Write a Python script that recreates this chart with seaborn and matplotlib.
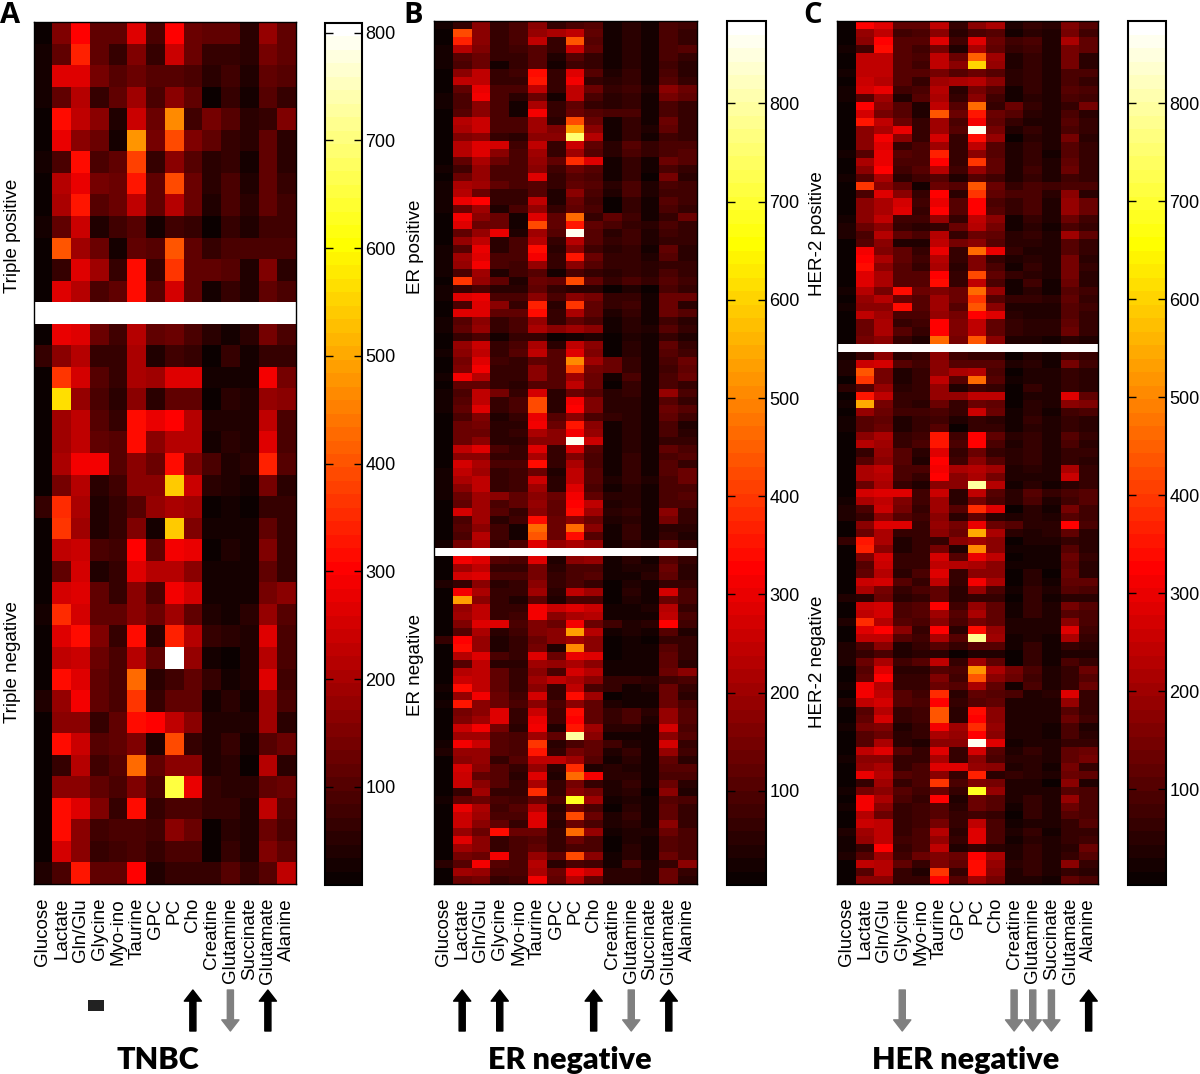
import numpy as np
import pandas as pd
import matplotlib
matplotlib.use("Agg")
import matplotlib.pyplot as plt
import matplotlib.transforms as mtrans
from matplotlib.patches import Rectangle
import seaborn as sns

metabolites = ["Glucose", "Lactate", "Gln/Glu", "Glycine", "Myo-ino", "Taurine", "GPC", "PC", "Cho",
               "Creatine", "Glutamine", "Succinate", "Glutamate", "Alanine"]

triple_positive = [
[10,150,300,120,120,270,90,300,130,110,110,50,180,120],
[25,110,340,120,70,150,60,240,130,70,70,50,140,110],
[25,260,260,140,100,130,100,100,90,50,80,45,110,100],
[25,110,210,70,110,190,90,170,110,20,60,30,100,60],
[10,320,230,170,40,240,130,470,80,140,100,50,70,150],
[10,280,170,130,30,480,140,390,150,110,60,50,120,50],
[30,90,310,90,120,380,70,160,100,50,60,30,110,55],
[15,220,280,140,130,330,110,390,130,50,90,40,110,60],
[20,200,330,100,130,230,110,220,130,40,90,50,120,80],
[30,120,240,40,80,100,30,80,70,10,70,40,80,80],
[15,400,190,130,30,110,100,400,110,70,90,90,90,90],
[10,70,270,190,70,320,60,370,110,110,100,45,150,50],
[10,260,210,90,110,320,100,250,120,30,70,40,120,90],
]
triple_negative = [
[20,280,270,130,80,210,110,130,90,50,30,50,140,90],
[60,160,210,60,70,200,40,80,70,10,60,25,60,60],
[10,360,250,100,70,200,190,260,260,30,30,30,290,140],
[15,560,180,90,50,160,50,120,120,15,50,40,180,160],
[10,190,230,100,70,310,280,300,220,40,40,40,230,90],
[10,190,230,110,100,320,170,220,210,30,50,40,270,90],
[10,200,290,290,100,170,130,310,150,90,40,50,340,100],
[15,140,220,50,80,170,170,540,240,50,40,25,140,50],
[60,350,200,40,70,100,180,200,190,10,30,10,70,60],
[10,360,190,40,70,150,25,540,150,25,25,30,120,70],
[10,230,240,90,80,300,120,290,280,15,40,30,150,70],
[15,120,250,40,60,270,220,210,170,25,30,30,120,60],
[10,250,260,120,60,170,90,290,250,25,25,25,140,170],
[30,350,250,120,120,170,130,190,120,45,25,50,180,100],
[10,260,320,150,70,310,50,340,220,60,50,40,270,90],
[10,230,240,130,90,220,120,810,180,30,20,40,220,90],
[10,310,270,110,90,430,50,80,110,70,30,40,270,80],
[40,180,290,110,90,360,70,120,120,30,50,25,190,90],
[10,170,170,70,110,320,300,230,170,40,40,40,190,50],
[10,320,240,100,110,150,40,390,60,40,60,30,100,130],
[10,70,210,80,100,430,120,170,170,40,50,15,220,50],
[10,170,170,120,90,150,90,650,280,60,50,50,120,130],
[10,310,260,150,70,310,60,90,90,70,60,40,230,100],
[10,310,170,80,90,90,80,170,130,15,50,40,130,90],
[10,250,170,70,80,90,70,90,90,15,60,40,150,110],
[40,90,330,120,110,300,45,70,70,60,100,60,100,230],
]

er_positive = [
[20,60,180,70,90,180,60,100,110,20,50,30,90,80],
[15,420,180,70,90,190,220,250,120,20,50,30,90,70],
[10,370,170,60,90,240,70,440,110,20,50,30,90,70],
[25,230,160,60,80,110,60,260,120,20,50,30,90,110],
[25,110,140,60,70,110,40,110,70,25,50,25,100,60],
[30,100,140,25,70,110,20,80,70,25,50,25,80,50],
[10,180,240,70,80,340,70,290,110,40,60,30,100,50],
[10,250,240,70,70,350,70,310,70,50,60,30,110,70],
[10,120,300,100,90,240,70,240,130,70,80,40,170,130],
[25,90,320,100,50,140,30,240,100,50,70,30,150,120],
[20,90,180,100,30,220,70,120,60,50,70,30,90,70],
[15,110,170,100,30,320,70,130,110,90,90,30,90,70],
[10,230,260,100,90,210,50,420,130,25,70,30,130,60],
[10,220,260,90,90,210,160,540,170,25,70,40,120,60],
[10,160,180,60,50,170,170,760,230,30,60,25,80,70],
[10,230,290,270,80,240,60,260,120,50,110,60,90,100],
[10,230,280,180,90,200,60,200,110,50,90,60,90,110],
[10,120,220,130,90,190,120,380,280,20,70,30,130,110],
[25,80,190,90,90,170,80,140,110,20,60,25,100,70],
[15,140,190,90,90,280,70,110,100,30,60,15,150,50],
[20,220,210,120,100,110,70,120,110,50,90,40,90,80],
[20,230,130,70,70,110,40,180,90,40,90,40,80,80],
[25,300,330,70,70,240,40,130,80,15,70,25,110,80],
[25,130,200,40,90,190,60,120,90,15,70,30,100,70],
[10,320,170,140,30,280,120,460,60,120,80,30,70,130],
[10,280,130,130,30,430,120,350,120,90,60,50,90,60],
[10,120,190,300,40,210,110,860,110,50,80,40,80,60],
[10,190,250,50,90,230,60,230,110,60,80,40,70,70],
[25,110,300,50,90,340,50,170,80,50,60,25,120,50],
[20,210,280,100,90,320,60,350,130,60,60,40,110,50],
[20,190,320,90,80,190,70,180,110,60,70,50,70,60],
[20,100,200,40,80,110,30,100,70,50,60,50,90,70],
[10,400,190,120,40,130,120,430,120,70,90,70,110,80],
[30,60,100,50,50,120,60,50,50,15,40,10,100,70],
[20,280,300,90,100,180,100,170,150,60,60,20,140,130],
[10,100,290,170,70,370,50,400,120,60,80,30,140,50],
[10,280,280,120,120,340,70,220,120,40,70,30,130,110],
[30,110,170,60,100,190,70,120,100,30,50,30,80,50],
[25,120,190,70,90,220,170,200,170,30,50,40,110,60],
[15,60,90,30,60,70,15,30,40,15,40,25,60,40],
[10,190,260,70,90,220,50,250,170,15,50,30,120,70],
[30,170,240,70,110,240,110,280,160,15,50,30,110,80],
[10,150,290,80,70,120,110,500,200,130,60,30,90,140],
[10,160,320,70,70,170,110,430,150,130,60,30,80,120],
[25,320,230,70,70,170,110,210,130,30,90,30,90,130],
[15,120,120,70,50,110,110,240,130,15,70,30,90,70],
[20,100,250,150,70,270,50,130,110,50,70,25,190,100],
[20,110,250,70,90,430,50,320,160,50,50,30,110,70],
[30,120,280,70,90,420,50,330,160,50,50,25,130,110],
[10,90,160,35,70,300,110,170,100,70,50,25,120,80],
[10,130,150,50,50,310,130,350,180,30,50,30,100,40],
[15,130,130,50,60,220,170,320,190,30,50,30,100,50],
[10,130,170,50,50,180,170,860,260,30,50,30,70,70],
[15,240,290,100,70,280,60,270,110,30,50,25,120,90],
[15,180,180,70,70,220,70,160,90,30,60,25,90,110],
[10,270,220,90,90,340,70,220,100,30,60,30,110,70],
[20,250,210,70,80,140,40,240,110,30,70,30,110,130],
[25,220,240,70,80,260,50,250,110,40,70,35,90,140],
[20,170,240,60,80,200,50,280,90,20,50,25,100,90],
[20,130,210,170,120,180,140,310,120,50,50,30,100,110],
[15,120,200,100,120,190,120,330,250,40,50,30,90,90],
[10,270,200,110,70,180,120,340,200,50,60,30,180,70],
[10,100,200,50,80,340,130,170,130,40,50,30,150,60],
[10,110,170,80,30,470,130,470,170,30,60,30,50,50],
[10,100,230,80,25,440,130,340,110,30,60,30,60,40],
[30,150,220,70,90,290,190,220,190,30,50,40,120,60],
]
er_negative = [
[10,320,280,110,100,280,40,170,190,30,50,30,110,60],
[15,200,240,70,60,150,50,100,100,25,40,35,130,50],
[15,270,280,90,90,150,60,100,110,30,25,50,120,50],
[40,70,170,50,70,170,60,90,70,10,40,25,60,60],
[10,320,220,70,70,200,50,240,210,15,50,30,270,100],
[15,540,180,60,40,120,40,100,90,10,40,25,130,100],
[10,190,240,70,70,310,260,290,260,30,30,35,230,60],
[10,200,240,70,80,320,180,220,230,30,30,30,250,90],
[10,160,290,290,100,160,130,320,130,80,40,50,330,80],
[15,110,220,50,80,160,170,530,230,30,40,25,110,45],
[60,330,190,40,70,130,180,200,170,10,30,15,70,60],
[10,340,190,40,60,150,40,510,170,15,25,20,110,60],
[10,230,280,100,60,280,130,300,280,15,30,25,120,70],
[15,110,250,50,50,210,190,220,170,25,30,25,120,50],
[10,230,250,120,60,170,90,270,230,25,25,25,130,170],
[15,260,250,120,70,200,250,220,170,70,70,50,80,90],
[20,340,240,120,60,170,60,240,100,70,30,40,130,70],
[15,190,320,140,80,270,60,340,210,10,30,20,130,50],
[30,360,170,130,90,180,90,170,120,40,30,30,130,100],
[10,150,180,280,60,260,80,340,120,60,90,50,190,110],
[10,160,210,290,70,300,80,330,120,60,90,40,190,110],
[10,260,320,150,50,310,40,350,200,50,50,30,270,90],
[15,200,200,110,90,200,120,790,170,25,30,25,180,110],
[25,310,260,110,100,400,50,100,120,80,40,30,270,60],
[40,190,190,110,90,350,70,150,120,40,60,25,190,80],
[15,180,190,70,110,240,240,210,110,30,50,25,120,50],
[10,270,170,110,70,190,50,380,40,50,40,20,110,110],
[15,260,120,110,50,290,40,470,310,50,50,25,90,90],
[10,260,170,110,70,220,60,150,70,40,60,20,140,50],
[15,60,200,70,70,380,70,170,150,40,50,10,180,40],
[20,120,140,90,80,130,100,690,200,30,45,30,110,90],
[10,300,220,80,110,230,50,130,100,15,50,30,120,60],
[10,260,200,90,90,290,70,420,130,40,60,30,120,60],
[10,260,170,120,60,290,50,130,90,40,50,30,170,70],
[15,190,130,340,130,130,70,460,190,20,40,40,130,90],
[15,290,170,60,100,110,60,130,100,10,40,30,110,90],
[15,200,170,60,100,120,70,100,100,10,50,30,110,90],
[15,150,130,310,100,190,120,420,170,20,50,30,130,90],
[50,110,320,110,90,230,50,100,80,30,90,40,70,170],
[15,210,190,100,90,220,130,300,260,50,50,40,130,70],
[15,130,150,60,80,320,120,230,120,50,50,40,130,50],
]

her_positive = [
[10,320,290,120,120,240,60,180,210,40,60,50,160,110],
[10,190,240,80,90,170,50,90,100,25,50,40,150,80],
[10,170,320,110,100,280,80,280,130,80,90,40,210,120],
[25,80,340,110,80,150,40,220,120,70,80,35,150,120],
[10,240,240,110,90,240,130,450,200,40,70,30,150,50],
[10,240,240,110,80,240,170,600,190,40,70,30,150,50],
[20,250,240,110,110,150,110,130,110,50,70,35,90,90],
[10,260,230,110,70,200,220,230,170,50,70,35,90,70],
[25,270,300,80,90,230,50,150,110,25,60,30,100,90],
[20,110,200,40,100,210,70,170,80,20,50,30,90,80],
[10,320,170,110,30,240,110,470,70,130,60,40,60,140],
[10,270,140,110,30,440,130,360,130,100,50,40,90,50],
[10,350,240,130,60,200,90,310,120,70,30,40,110,70],
[10,170,220,300,60,200,110,870,140,40,60,40,90,70],
[10,180,310,170,70,270,60,340,190,15,50,30,150,50],
[10,170,280,70,90,200,60,250,110,40,60,35,110,70],
[25,110,300,100,90,370,70,170,110,40,60,25,110,60],
[15,220,300,90,90,320,70,400,120,40,70,30,120,70],
[15,170,320,80,100,230,80,190,120,40,80,30,130,70],
[20,110,220,50,80,100,40,110,80,30,70,30,80,70],
[10,400,180,120,25,130,100,430,130,70,90,80,90,90],
[10,90,290,170,60,320,50,390,120,90,90,50,170,50],
[15,170,220,270,80,300,110,330,90,60,90,40,190,130],
[15,170,220,280,70,320,110,330,110,60,90,40,190,130],
[25,170,250,80,80,190,70,240,170,20,60,30,130,80],
[30,130,170,70,50,60,130,230,150,20,50,25,90,60],
[40,90,230,120,90,230,70,130,120,50,60,40,200,120],
[10,110,170,30,35,250,150,170,110,50,50,35,110,60],
[10,310,160,120,60,300,70,470,300,60,40,30,110,60],
[10,320,210,120,80,230,60,160,70,30,50,30,150,50],
[10,340,170,110,70,210,50,160,90,20,60,35,150,60],
[15,280,220,100,110,330,70,420,120,60,50,30,150,50],
[15,290,210,100,110,340,60,240,90,25,80,25,130,50],
[20,230,150,340,130,160,130,470,190,20,50,25,100,80],
[15,190,230,130,110,200,130,400,110,60,70,50,120,70],
[20,170,170,340,100,200,110,430,170,40,40,30,110,80],
[10,240,200,90,90,190,140,320,280,50,30,35,100,60],
[10,130,210,60,80,320,160,240,120,60,50,50,120,60],
[10,130,220,100,70,330,160,240,120,60,50,50,130,60],
[10,150,170,70,30,470,150,440,180,30,40,25,50,40],
]
her_negative = [
[25,60,170,50,60,170,80,70,70,15,35,25,80,60],
[30,260,270,100,80,180,110,110,100,30,50,25,150,80],
[30,430,150,40,70,170,220,230,90,10,40,35,60,50],
[10,390,150,40,70,240,110,470,100,20,40,35,60,50],
[50,110,190,50,60,190,40,80,70,10,70,30,60,50],
[10,350,250,70,70,190,190,250,250,15,40,30,280,120],
[20,550,150,70,50,130,60,130,120,15,50,30,170,160],
[15,190,130,80,80,90,70,260,130,25,50,20,80,90],
[25,100,120,30,60,80,40,60,50,20,60,35,70,50],
[25,110,130,30,60,100,15,70,70,20,50,35,70,45],
[10,170,210,70,80,360,80,320,120,50,60,30,110,60],
[15,230,200,70,90,360,90,320,90,40,60,30,90,50],
[15,70,190,100,50,280,70,130,70,50,60,30,70,60],
[10,100,170,100,40,330,80,170,100,50,70,40,70,50],
[10,210,240,90,90,310,220,230,200,30,50,30,220,70],
[10,210,230,90,70,320,170,220,150,30,30,30,260,70],
[10,130,210,70,40,170,170,790,230,25,50,25,50,70],
[15,270,290,290,80,260,50,250,110,50,110,60,90,100],
[20,220,250,160,80,200,50,150,90,50,90,40,80,100],
[30,90,260,140,70,200,110,380,290,15,50,25,150,80],
[40,70,180,100,80,170,50,120,50,30,50,30,110,80],
[10,180,290,290,70,190,150,300,130,110,50,50,330,90],
[10,130,220,60,70,180,130,540,220,50,40,50,120,50],
[60,350,220,40,60,70,170,200,180,10,30,30,60,50],
[10,370,170,40,60,150,30,510,170,25,25,25,110,50],
[15,160,270,60,70,270,110,300,250,10,25,25,130,70],
[15,110,260,60,60,250,230,220,170,20,25,25,120,50],
[15,120,230,50,90,290,60,180,170,15,50,10,130,50],
[10,260,270,100,70,240,70,310,220,15,50,25,120,120],
[15,210,150,70,90,120,50,190,90,20,60,30,110,90],
[30,50,130,50,60,120,50,60,60,15,60,25,50,50],
[10,260,270,90,110,330,80,190,120,25,60,30,140,100],
[15,240,270,90,110,200,100,220,120,25,60,30,110,90],
[30,380,230,100,90,170,90,150,120,30,30,30,170,90],
[10,280,320,170,60,320,50,340,190,30,40,30,290,80],
[15,240,250,110,80,220,110,780,200,25,40,25,220,70],
[40,90,170,40,60,110,60,100,100,25,70,25,60,50],
[30,60,90,30,50,50,15,40,40,15,60,20,40,40],
[30,130,220,80,110,250,60,200,120,15,60,25,90,60],
[15,110,280,50,50,100,90,520,210,140,90,40,70,130],
[15,120,320,60,60,160,80,440,180,130,80,30,70,110],
[25,310,230,70,70,130,100,220,120,25,90,30,70,130],
[10,310,250,100,80,380,50,120,110,90,40,50,290,70],
[30,240,270,100,90,330,60,100,120,40,40,30,190,70],
[15,110,230,70,80,430,50,340,170,30,40,30,100,70],
[15,120,270,70,80,430,50,320,170,30,40,30,130,80],
[20,150,160,40,70,310,200,380,190,30,40,25,90,40],
[15,110,130,50,60,220,190,320,180,30,40,25,90,50],
[10,110,220,50,40,170,170,860,280,25,40,30,70,70],
[15,240,290,100,70,280,60,270,110,40,60,30,120,130],
[20,180,170,70,70,220,60,180,90,50,50,35,120,140],
[15,190,220,70,90,290,280,190,170,30,50,25,150,60],
[15,300,230,100,90,180,60,370,50,60,50,30,130,120],
[10,60,200,70,90,400,90,160,150,40,40,15,180,40],
[20,150,170,100,80,130,70,680,190,40,40,30,100,90],
[15,310,220,90,60,320,40,130,100,40,60,30,190,90],
[20,310,180,70,80,100,50,130,110,20,60,30,130,90],
[15,230,130,70,80,110,70,80,70,10,60,30,110,90],
[15,260,240,70,80,140,60,240,90,25,40,35,60,110],
[30,200,240,70,90,230,50,280,90,30,60,25,70,70],
[20,190,240,80,90,190,60,290,90,20,50,35,70,80],
[25,70,320,70,90,240,40,60,50,30,70,40,50,130],
[30,110,200,80,130,160,130,320,220,30,70,30,60,100],
[10,240,230,120,60,160,120,340,190,50,60,30,170,70],
[10,110,230,70,30,400,60,340,170,30,60,30,60,50],
[15,170,170,70,70,320,110,200,150,30,40,25,120,90],
]

panels = [
    dict(letter="A", pos=triple_positive, neg=triple_negative, box=(33.5, 22, 296, 884),
         cbox=(325, 23, 362, 885), vmin=9, vmax=809, pos_label="Triple positive", neg_label="Triple negative",
         label_x=13, pos_y=236, neg_y=662, letter_x=0, title="TNBC", title_x=158,
         up=[8, 12], down=[10], dash=[3]),
    dict(letter="B", pos=er_positive, neg=er_negative, box=(434, 21, 697, 884),
         cbox=(727, 21, 766, 885), vmin=4, vmax=884, pos_label="ER positive", neg_label="ER negative",
         label_x=416, pos_y=247, neg_y=665, letter_x=403, title="ER negative", title_x=570,
         up=[1, 3, 8, 12], down=[10], dash=[]),
    dict(letter="C", pos=her_positive, neg=her_negative, box=(837, 21, 1098, 884),
         cbox=(1128, 21, 1166, 885), vmin=2, vmax=884, pos_label="HER-2 positive", neg_label="HER-2 negative",
         label_x=817, pos_y=234, neg_y=662, letter_x=803, title="HER negative", title_x=966,
         up=[13], down=[3, 9, 10, 11], dash=[]),
]

W, H = 1200, 1074
plt.rcParams["font.family"] = ["Liberation Sans", "DejaVu Sans"]
fig = plt.figure(figsize=(W / 100, H / 100), dpi=100, facecolor="white")


def px_axes(box):
    l, t, r, b = box
    return fig.add_axes([l / W, 1 - b / H, (r - l) / W, (b - t) / H])


cmap = plt.get_cmap("hot", 64)
ARROW_TOP, ARROW_BOTTOM = 1 - 990 / H, 1 - 1031 / H
arrow_style = "simple,head_length=0.4,head_width=0.62,tail_width=0.22"
TEXT_SIZE = 13.5

for p in panels:
    ax, cax = px_axes(p["box"]), px_axes(p["cbox"])
    gap = [[np.nan] * len(metabolites)]
    table = pd.DataFrame(p["pos"] + gap + p["neg"], columns=metabolites)
    sns.heatmap(table, ax=ax, cbar_ax=cax, cmap=cmap, vmin=p["vmin"], vmax=p["vmax"],
                xticklabels=True, yticklabels=False, cbar_kws=dict(ticks=range(100, 900, 100)))
    ax.set_facecolor("white")
    ax.tick_params(axis="x", rotation=90, length=0, pad=10, labelsize=TEXT_SIZE)
    ax.set_xlabel("")
    ax.set_ylabel("")
    for s in ax.spines.values():
        s.set_visible(True)
        s.set_linewidth(1)
        s.set_color("black")

    cbar = ax.collections[0].colorbar
    cbar.ax.tick_params(axis="y", direction="in", length=6, width=1, left=True, right=True,
                        labelsize=13, pad=2.5, color="black")
    cbar.ax.minorticks_off()
    cbar.outline.set_edgecolor("black")
    cbar.outline.set_linewidth(1.5)
    cbar.outline.set_visible(True)

    fig.text(p["label_x"] / W, 1 - p["pos_y"] / H, p["pos_label"], rotation=90, ha="center", va="center", fontsize=TEXT_SIZE)
    fig.text(p["label_x"] / W, 1 - p["neg_y"] / H, p["neg_label"], rotation=90, ha="center", va="center", fontsize=TEXT_SIZE)
    fig.text(p["letter_x"] / W, 1 - 23 / H, p["letter"], ha="left", va="baseline", fontsize=21,
             fontweight="bold", family=["Open Sans", "DejaVu Sans"])
    fig.text(p["title_x"] / W, 1 - 1069 / H, p["title"], ha="center", va="baseline", fontsize=22,
             fontweight="heavy", family=["Lato", "DejaVu Sans"])

    trans = mtrans.blended_transform_factory(ax.transData, fig.transFigure)
    for col in p["up"]:
        ax.annotate("", xy=(col + 0.5, ARROW_TOP), xytext=(col + 0.5, ARROW_BOTTOM), xycoords=trans, textcoords=trans,
                    annotation_clip=False,
                    arrowprops=dict(arrowstyle=arrow_style, mutation_scale=20, color="black", shrinkA=0, shrinkB=0))
    for col in p["down"]:
        ax.annotate("", xy=(col + 0.5, ARROW_BOTTOM), xytext=(col + 0.5, ARROW_TOP), xycoords=trans, textcoords=trans,
                    annotation_clip=False,
                    arrowprops=dict(arrowstyle=arrow_style, mutation_scale=20, color="#808080", shrinkA=0, shrinkB=0))
    for col in p["dash"]:
        ax.add_patch(Rectangle((col - 0.1, 1 - 1011 / H), 0.85, 11 / H, transform=trans, clip_on=False,
                               facecolor="#222222", edgecolor="none"))

fig.savefig("out.png", dpi=100, facecolor="white")
